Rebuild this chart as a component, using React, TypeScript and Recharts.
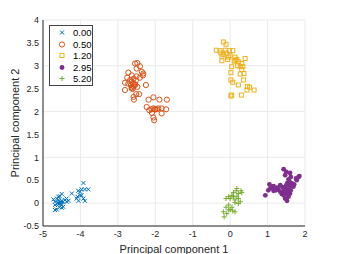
import React from 'react';
import { ScatterChart, Scatter, XAxis, YAxis, CartesianGrid, Legend, Label } from 'recharts';

// cluster points, [component 1, component 2]
const pts000 = [
  [-4.63, 0.1], [-4.55, 0.15], [-4.5, 0.2], [-4.68, 0.03], [-4.59, 0.07], [-4.72, 0.08], [-4.5, 0.05],
  [-4.41, 0.07], [-4.32, 0.05], [-4.37, 0.1], [-4.55, -0.01], [-4.5, -0.04], [-4.56, -0.09], [-4.63, -0.14],
  [-4.68, -0.15], [-4.46, 0.03], [-4.59, 0.14], [-4.55, 0.03], [-4.46, -0.08], [-4.37, 0.03], [-4.68, -0.04],
  [-4.55, 0.0], [-4.52, 0.02], [-4.58, -0.02], [-4.5, -0.1], [-4.6, 0.0],
  [-4.23, 0.21], [-4.06, 0.27], [-4.01, 0.25], [-3.97, 0.3], [-3.92, 0.44], [-3.88, 0.3], [-3.79, 0.3],
  [-3.97, 0.17], [-4.08, 0.14], [-3.92, 0.1], [-4.05, 0.05], [-3.88, 0.05], [-4.01, 0.17], [-4.1, 0.1],
];

const pts050 = [
  [-2.54, 3.05], [-2.48, 3.06], [-2.41, 2.99], [-2.5, 2.94], [-2.36, 2.87], [-2.72, 2.85], [-2.63, 2.79],
  [-2.75, 2.74], [-2.67, 2.69], [-2.58, 2.72], [-2.5, 2.77], [-2.41, 2.74], [-2.63, 2.65], [-2.72, 2.61],
  [-2.81, 2.63], [-2.54, 2.58], [-2.63, 2.53], [-2.48, 2.54], [-2.81, 2.47], [-2.63, 2.5], [-2.51, 2.38],
  [-2.58, 2.32], [-2.43, 2.38], [-2.57, 2.26], [-2.32, 2.83], [-2.33, 2.79], [-2.25, 2.58],
  [-2.6, 2.62], [-2.58, 2.55], [-2.55, 2.6], [-2.65, 2.58], [-2.6, 2.5], [-2.52, 2.68],
  [-2.18, 2.26], [-2.05, 2.31], [-1.89, 2.26], [-1.69, 2.26], [-2.23, 2.1], [-2.16, 2.03], [-2.05, 2.07],
  [-1.96, 2.05], [-1.92, 2.07], [-1.83, 2.07], [-1.71, 2.05], [-2.09, 1.97], [-2.01, 2.05], [-1.83, 1.96],
  [-2.05, 1.87], [-2.03, 1.81], [-2.1, 2.05], [-2.0, 2.05],
];

const pts120 = [
  [-0.18, 3.52], [-0.11, 3.47], [-0.37, 3.34], [-0.27, 3.33], [-0.13, 3.34], [-0.02, 3.33], [0.07, 3.33],
  [-0.18, 3.25], [-0.22, 3.21], [-0.04, 3.19], [0.13, 3.19], [0.18, 3.14], [-0.22, 3.11], [-0.07, 3.14],
  [0.11, 3.1], [0.22, 3.09], [0.31, 3.05], [0.4, 3.16], [0.27, 2.99], [0.34, 2.98], [0.04, 2.98],
  [0.31, 2.92], [0.02, 2.85], [0.27, 2.82], [0.37, 2.83], [0.02, 2.69], [0.07, 2.64], [0.36, 2.69],
  [0.22, 2.58], [0.46, 2.55], [0.52, 2.53], [0.45, 2.47], [0.64, 2.47], [0.04, 2.36], [0.02, 2.34],
  [0.3, 2.36], [-0.1, 3.28], [0.0, 3.22], [0.2, 3.0], [-0.25, 3.28], [0.15, 3.12],
];

const pts295 = [
  [1.43, 0.74], [1.5, 0.68], [1.47, 0.61], [1.6, 0.66], [1.62, 0.57], [1.83, 0.57], [1.78, 0.5],
  [1.56, 0.52], [1.53, 0.44], [1.65, 0.43], [1.69, 0.36], [1.59, 0.36], [1.47, 0.32], [1.43, 0.27],
  [1.34, 0.25], [1.52, 0.21], [1.56, 0.14], [1.47, 0.1], [1.52, 0.05], [1.38, 0.2], [1.29, 0.3],
  [1.2, 0.32], [1.16, 0.37], [1.05, 0.41], [1.07, 0.32], [1.02, 0.28], [1.16, 0.27], [1.25, 0.34],
  [0.94, 0.17], [1.34, 0.39], [1.62, 0.28], [1.71, 0.41], [1.6, 0.21], [1.43, 0.17], [1.5, 0.39],
  [1.76, 0.54], [1.85, 0.59], [1.5, 0.3], [1.45, 0.25], [1.55, 0.28], [1.4, 0.35], [1.6, 0.45],
  [1.12, 0.35], [1.22, 0.28],
];

const pts520 = [
  [0.18, 0.32], [0.16, 0.27], [0.22, 0.21], [0.29, 0.27], [0.31, 0.23], [0.09, 0.23], [0.05, 0.17],
  [-0.04, 0.14], [0.09, 0.14], [0.18, 0.15], [-0.11, 0.1], [0.0, 0.1], [0.13, 0.07], [0.22, 0.1],
  [0.27, 0.03], [0.13, 0.01], [-0.04, -0.04], [-0.11, -0.09], [0.0, -0.14], [-0.04, -0.15], [0.07, -0.17],
  [0.13, -0.19], [-0.18, -0.19], [-0.16, -0.3], [-0.09, -0.23], [0.05, -0.09], [0.22, -0.01],
];

const xTicks = [-5, -4, -3, -2, -1, 0, 1, 2];
const yTicks = [-0.5, 0, 0.5, 1, 1.5, 2, 2.5, 3, 3.5, 4];

const FONT = '"Liberation Sans", Arial, Helvetica, sans-serif';
const INK = '#262626';

type Mark = 'x' | 'o' | 's' | 'dot' | 'plus';

const Marker = ({ kind, cx, cy, color }: { kind: Mark; cx: number; cy: number; color: string }) => {
  if (kind === 'x')
    return (
      <path d={`M${cx - 2},${cy - 2}L${cx + 2},${cy + 2}M${cx - 2},${cy + 2}L${cx + 2},${cy - 2}`} stroke={color} strokeWidth={1} fill="none" />
    );
  if (kind === 'o') return <circle cx={cx} cy={cy} r={2.6} stroke={color} strokeWidth={1} fill="none" />;
  if (kind === 's') return <rect x={cx - 2} y={cy - 2} width={4} height={4} stroke={color} strokeWidth={1} fill="none" />;
  if (kind === 'dot') return <circle cx={cx} cy={cy} r={2.4} fill={color} />;
  return <path d={`M${cx - 2.5},${cy}L${cx + 2.5},${cy}M${cx},${cy - 2.5}L${cx},${cy + 2.5}`} stroke={color} strokeWidth={1} fill="none" />;
};

const series: { name: string; pts: number[][]; color: string; kind: Mark }[] = [
  { name: '0.00', pts: pts000, color: '#0072BD', kind: 'x' },
  { name: '0.50', pts: pts050, color: '#D95319', kind: 'o' },
  { name: '1.20', pts: pts120, color: '#EDB120', kind: 's' },
  { name: '2.95', pts: pts295, color: '#7E2F8E', kind: 'dot' },
  { name: '5.20', pts: pts520, color: '#77AC30', kind: 'plus' },
];

const LegendBox = () => (
  <div style={{ border: '1px solid #444', background: '#fff', padding: '1px 0', boxSizing: 'border-box', width: 44, height: 61 }}>
    {series.map((s) => (
      <div key={s.name} style={{ display: 'flex', alignItems: 'center', height: 11.5, fontFamily: FONT, fontSize: 9.5, color: '#000' }}>
        <svg width={23} height={11} style={{ flex: 'none' }}>
          <Marker kind={s.kind} cx={12} cy={5.5} color={s.color} />
        </svg>
        <span>{s.name}</span>
      </div>
    ))}
  </div>
);

const YTitle = (props: any) => {
  const vb = props.viewBox || { y: 20, height: 206 };
  const cy = vb.y + vb.height / 2;
  return (
    <text x={15} y={cy} transform={`rotate(-90, 15, ${cy})`} textAnchor="middle" dominantBaseline="central" fontSize={11} fontFamily={FONT} fill={INK}>
      Principal component 2
    </text>
  );
};

export default function App() {
  return (
    <div style={{ position: 'absolute', left: 0, top: 0, width: 338, height: 254, background: '#fff' }}>
      <ScatterChart width={338} height={254} margin={{ top: 20, right: 33, bottom: 0, left: 0 }}>
        <CartesianGrid stroke="#ebebeb" />
        <XAxis
          type="number"
          dataKey="x"
          domain={[-5, 2]}
          ticks={xTicks}
          height={28}
          tickLine={false}
          tickSize={0}
          tickMargin={5}
          axisLine={{ stroke: INK }}
          tick={{ fill: INK, fontSize: 9, fontFamily: FONT }}
          allowDataOverflow
        >
          <Label value="Principal component 1" position="insideBottom" offset={1} fontSize={11} fontFamily={FONT} fill={INK} />
        </XAxis>
        <YAxis
          type="number"
          dataKey="y"
          domain={[-0.5, 4]}
          ticks={yTicks}
          width={43}
          tickLine={false}
          tickSize={0}
          tickMargin={4}
          axisLine={{ stroke: INK }}
          tick={{ fill: INK, fontSize: 9, fontFamily: FONT }}
          allowDataOverflow
        >
          <Label content={YTitle} />
        </YAxis>
        <Legend
          layout="vertical"
          align="center"
          verticalAlign="middle"
          content={LegendBox}
          wrapperStyle={{ left: 49, top: 25, width: 44, height: 61 }}
        />
        {series.map((s) => (
          <Scatter
            key={s.name}
            name={s.name}
            data={s.pts.map(([x, y]) => ({ x, y }))}
            isAnimationActive={false}
            shape={(p: any) => <Marker kind={s.kind} cx={p.cx} cy={p.cy} color={s.color} />}
          />
        ))}
      </ScatterChart>
    </div>
  );
}
